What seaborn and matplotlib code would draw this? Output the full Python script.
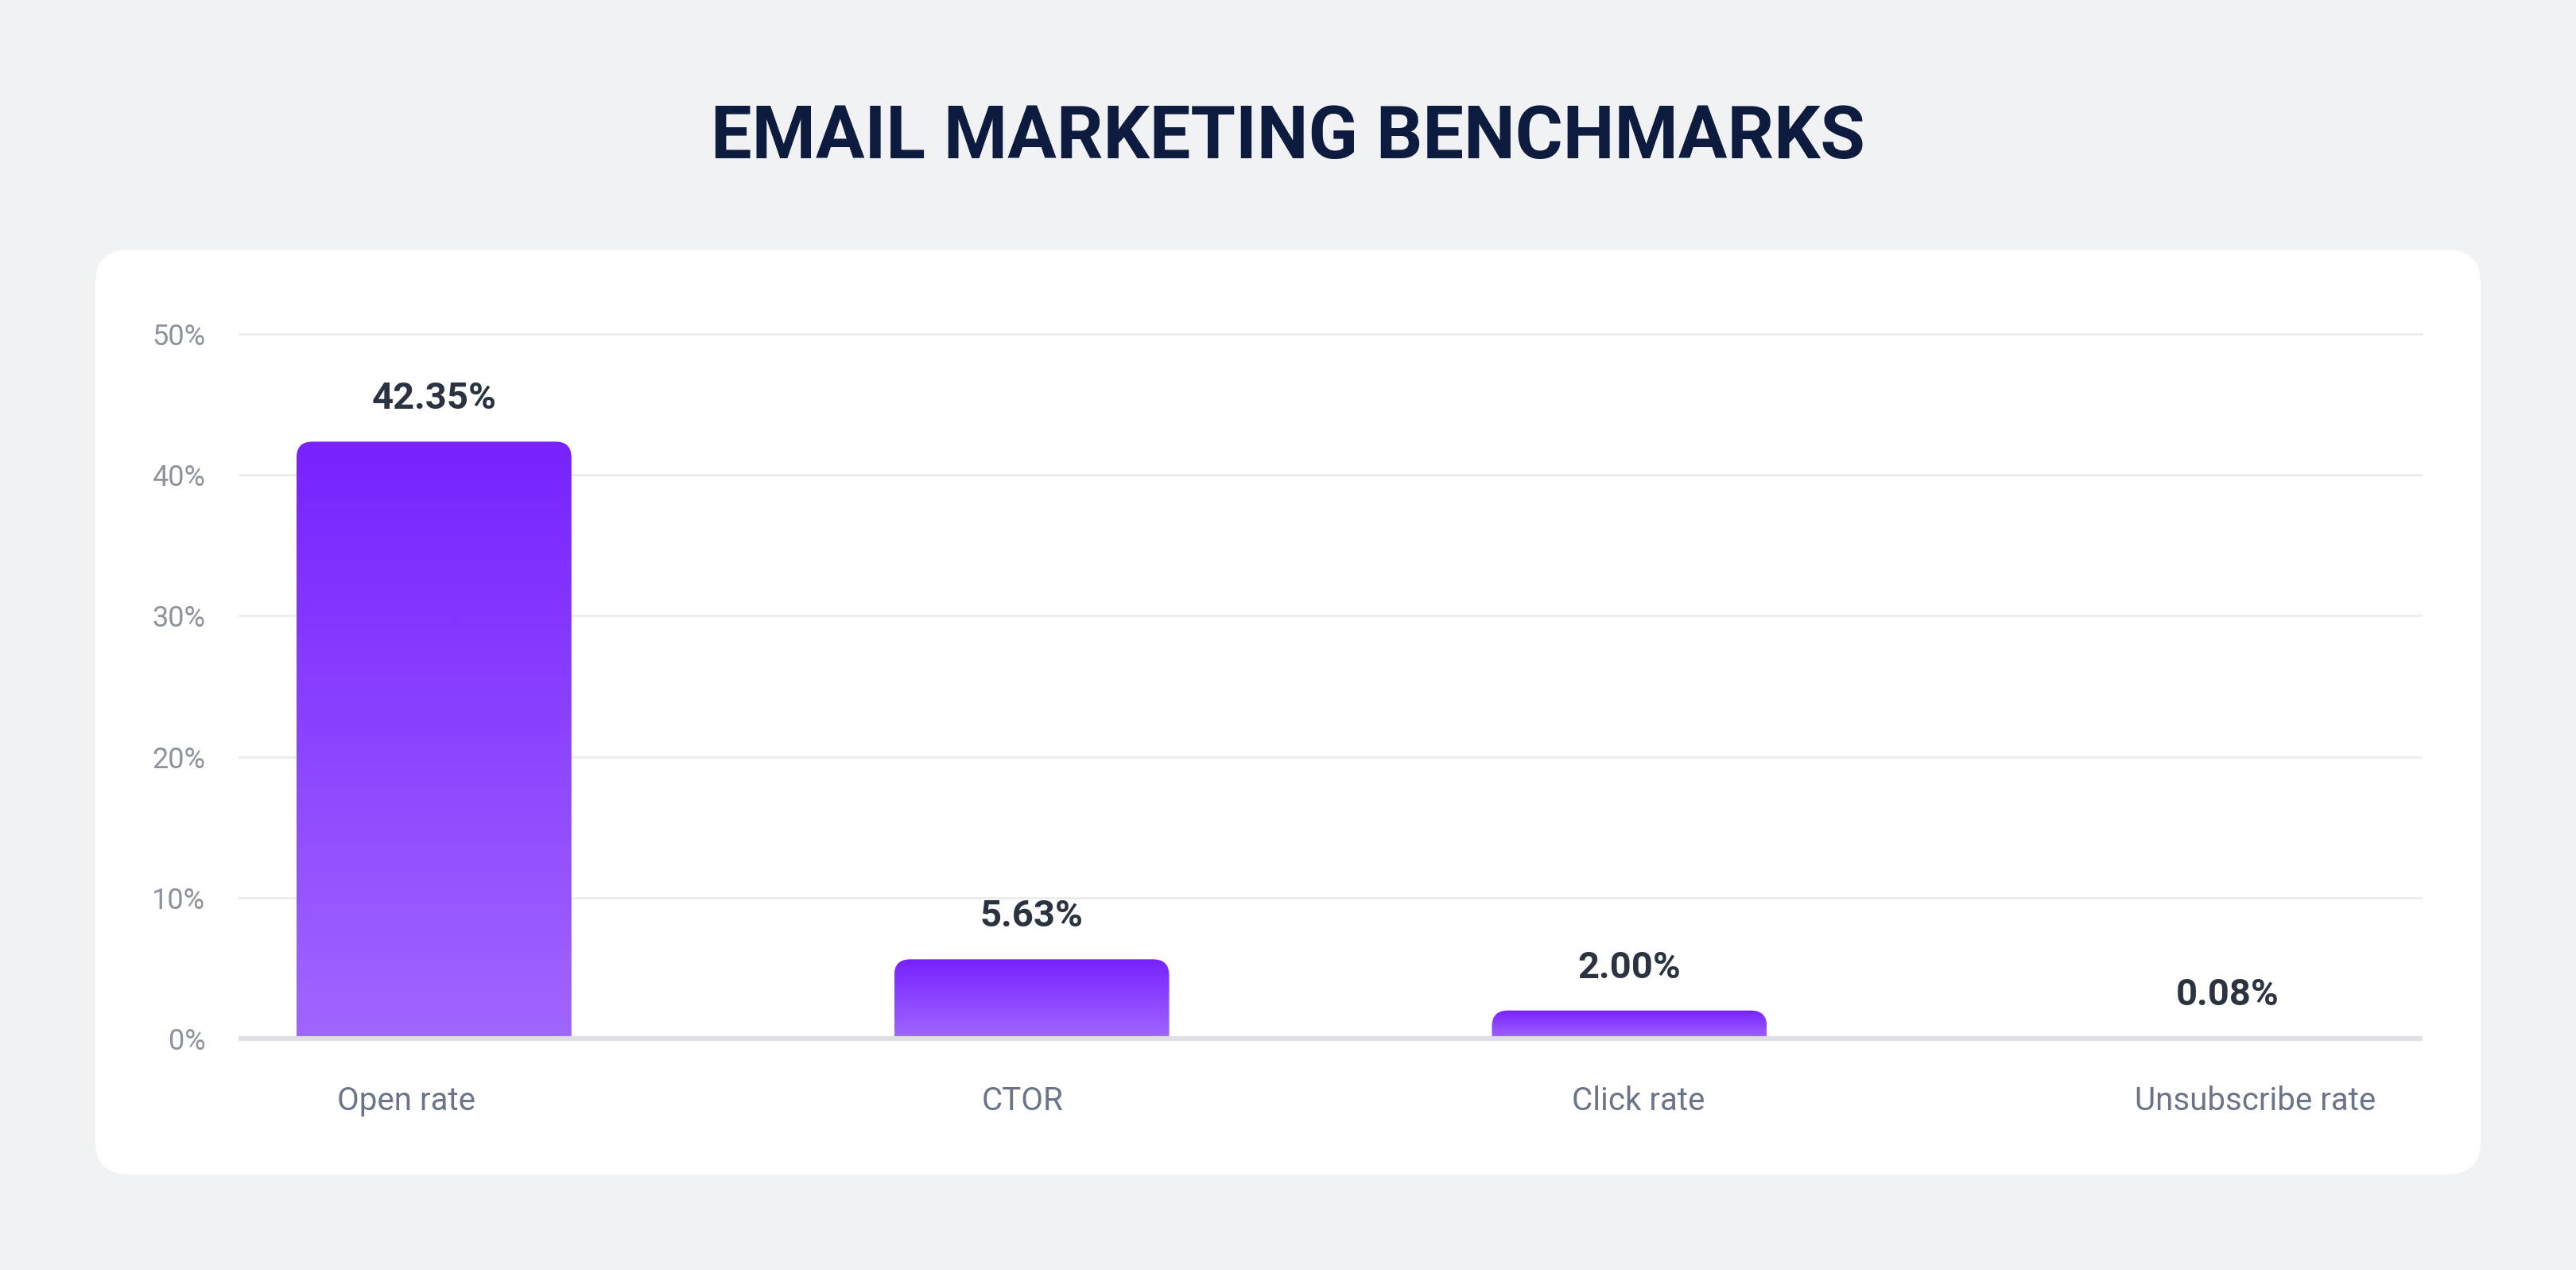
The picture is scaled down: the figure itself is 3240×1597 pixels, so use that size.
import numpy as np
import seaborn as sns
import matplotlib.pyplot as plt
from matplotlib.patches import FancyBboxPatch
from matplotlib.path import Path
from matplotlib.transforms import IdentityTransform
from matplotlib.colors import LinearSegmentedColormap

# data
categories = ["Open rate", "CTOR", "Click rate", "Unsubscribe rate"]
values = [42.35, 5.63, 2.00, 0.08]
value_labels = ["42.35%", "5.63%", "2.00%", "0.08%"]
y_ticks = [0, 10, 20, 30, 40, 50]
y_tick_labels = ["0%", "10%", "20%", "30%", "40%", "50%"]

sns.set_style("white")
plt.rcParams["font.family"] = ["Roboto", "DejaVu Sans"]

W, H, DPI = 3240, 1597, 200
fig = plt.figure(figsize=(W / DPI, H / DPI), dpi=DPI, facecolor="#f1f2f4")

# white card behind the chart
card = FancyBboxPatch((120, H - 1477), 3000, 1163,
                      boxstyle="round,pad=0,rounding_size=42",
                      transform=IdentityTransform(),
                      facecolor="white", edgecolor="none", zorder=0)
fig.add_artist(card)

fig.text(0.5, 1 - 174 / H, "EMAIL MARKETING BENCHMARKS", ha="center", va="center",
         fontsize=33, fontweight="bold", color="#0d1b3e")

ax = fig.add_axes([300 / W, 1 - 1315 / H, 2747 / W, 913 / H])
ax.set_facecolor("none")

sns.barplot(x=categories, y=values, width=0.46, ax=ax, color="#7b22ff")

ax.set_xlabel("")
ax.set_ylabel("")
ax.set_yticks(y_ticks)
ax.set_yticklabels(y_tick_labels)
sns.despine(ax=ax, left=True, bottom=True)
ax.tick_params(axis="y", length=0, pad=15, labelsize=13, labelcolor="#8d929c")
ax.tick_params(axis="x", length=0, labelbottom=False)

# category labels sit on a slightly wider band than the bars
lab = ax.twiny()
lab.set_xlim(-0.272, 3.272)
lab.set_xticks(range(len(categories)))
lab.set_xticklabels(categories)
lab.xaxis.set_ticks_position("bottom")
lab.xaxis.set_label_position("bottom")
lab.tick_params(axis="x", length=0, pad=18, labelsize=14.5, labelcolor="#6b7488")
sns.despine(ax=lab, left=True, bottom=True, top=True, right=True)

for t in y_ticks[1:]:
    ax.axhline(t, color="#ebecef", lw=1, zorder=0.5)
ax.axhline(0, color="#dfe0e5", lw=2.2, zorder=4)

ax.set_xlim(-0.327, 3.327)
ax.set_ylim(-0.5, 51)

# gradient fill with rounded tops
cmap = LinearSegmentedColormap.from_list("bar", ["#a066ff", "#7822ff"])
grad = np.linspace(0, 1, 256).reshape(-1, 1)
for patch, label in zip(ax.patches, value_labels):
    x0, y0 = patch.get_x(), patch.get_y()
    w, h = patch.get_width(), patch.get_height()
    patch.set_visible(False)
    im = ax.imshow(grad, extent=[x0, x0 + w, y0, y0 + h], origin="lower",
                   cmap=cmap, aspect="auto", zorder=3, interpolation="bicubic")
    (px0, py0), (px1, py1) = ax.transData.transform([(x0, y0), (x0 + w, y0 + h)])
    r = min(20, py1 - py0, (px1 - px0) / 2)
    verts = [(px0, py0), (px0, py1 - r), (px0, py1), (px0 + r, py1),
             (px1 - r, py1), (px1, py1), (px1, py1 - r), (px1, py0), (px0, py0)]
    codes = [Path.MOVETO, Path.LINETO, Path.CURVE3, Path.CURVE3,
             Path.LINETO, Path.CURVE3, Path.CURVE3, Path.LINETO, Path.CLOSEPOLY]
    im.set_clip_path(Path(verts, codes), IdentityTransform())
    ax.annotate(label, (x0 + w / 2, y0 + h), xytext=(0, 54), textcoords="offset pixels",
                ha="center", va="center", fontsize=17, fontweight="bold", color="#2b3340")

ax.set_xlim(-0.327, 3.327)
ax.set_ylim(-0.5, 51)

fig.savefig("out.png", dpi=DPI, facecolor=fig.get_facecolor())
